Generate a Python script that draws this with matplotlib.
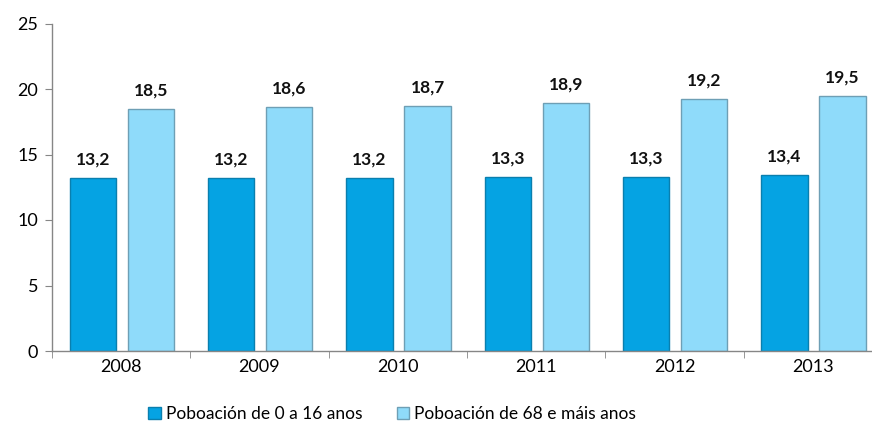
import matplotlib.pyplot as plt
import numpy as np

years = ["2008", "2009", "2010", "2011", "2012", "2013"]
young = [13.2, 13.2, 13.2, 13.3, 13.3, 13.4]
old = [18.5, 18.6, 18.7, 18.9, 19.2, 19.5]
labels = ["Poboación de 0 a 16 anos", "Poboación de 68 e máis anos"]

plt.rcParams["font.family"] = ["Lato", "DejaVu Sans"]

fig = plt.figure(figsize=(8.72, 4.37), dpi=100)
# plot area runs a little past the right edge, like the original crop
ax = fig.add_axes([52 / 872, 86 / 437, 830 / 872, 327.5 / 437])

x = np.arange(len(years))
w = 0.335
b1 = ax.bar(x - 0.205, young, w, color="#05a3e3", edgecolor="#0a7fae",
            linewidth=1.0, label=labels[0])
b2 = ax.bar(x + 0.215, old, w, color="#8fdbfa", edgecolor="#6e9fb5",
            linewidth=1.0, label=labels[1])

for bars in (b1, b2):
    for r in bars:
        h = r.get_height()
        ax.text(r.get_x() + r.get_width() / 2, h + 0.8,
                f"{h:.1f}".replace(".", ","), ha="center", va="bottom",
                fontsize=12.5, fontweight="bold", color="#111111")

ax.set_xlim(-0.5, len(years) - 0.5)
ax.set_ylim(0, 25)
ax.set_yticks([0, 5, 10, 15, 20, 25])
ax.set_xticks(x)
ax.set_xticklabels(years)
ax.set_xticks(np.arange(-0.5, len(years), 1), minor=True)
ax.tick_params(axis="x", which="major", length=0, pad=6, labelsize=13)
ax.tick_params(axis="x", which="minor", length=5, color="#868686")
ax.tick_params(axis="y", length=5, color="#868686", pad=5, labelsize=13)

for s in ("top", "right"):
    ax.spines[s].set_visible(False)
for s in ("left", "bottom"):
    ax.spines[s].set_color("#868686")
    ax.spines[s].set_linewidth(1.0)

fig.legend(handles=[b1, b2], labels=labels, loc="center",
           bbox_to_anchor=(0.45, 0.052), ncol=2, frameon=False,
           fontsize=12.5, handlelength=0.7, handleheight=0.7,
           handletextpad=0.3, columnspacing=2.0)

plt.savefig("out.png", dpi=100)
